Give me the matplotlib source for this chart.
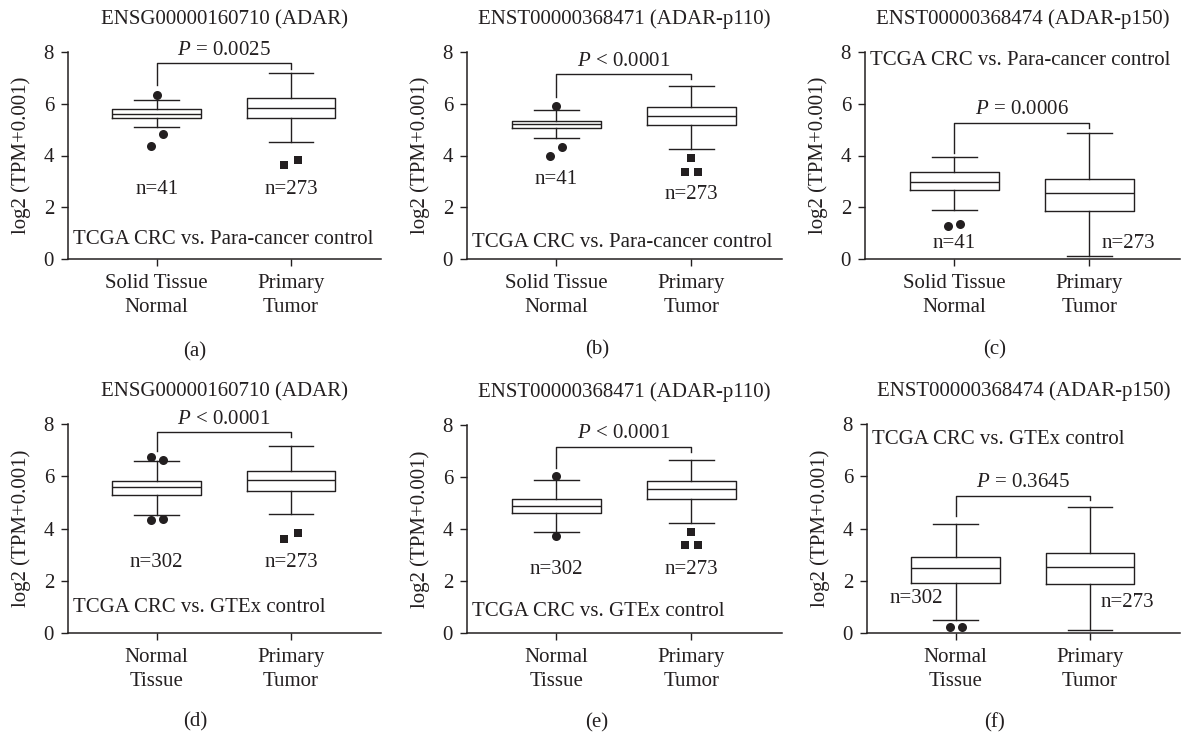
import matplotlib
matplotlib.use("Agg")
import matplotlib.pyplot as plt

# ---------------- data ----------------
titles = ["ENSG00000160710 (ADAR)", "ENST00000368471 (ADAR-p110)", "ENST00000368474 (ADAR-p150)",
          "ENSG00000160710 (ADAR)", "ENST00000368471 (ADAR-p110)", "ENST00000368474 (ADAR-p150)"]
panel_letters = ["(a)", "(b)", "(c)", "(d)", "(e)", "(f)"]
categories_para = ["Solid Tissue\nNormal", "Primary\nTumor"]
categories_gtex = ["Normal\nTissue", "Primary\nTumor"]
comparison = ["TCGA CRC vs. Para-cancer control"] * 3 + ["TCGA CRC vs. GTEx control"] * 3
p_values = ["= 0.0025", "< 0.0001", "= 0.0006", "< 0.0001", "< 0.0001", "= 0.3645"]
n_normal = ["n=41", "n=41", "n=41", "n=302", "n=302", "n=302"]
n_tumor = ["n=273"] * 6

# box statistics (whisker low, q1, median, q3, whisker high)
normal_wlo = [5.11, 4.67, 1.90, 4.53, 3.88, 0.51]
normal_q1 = [5.46, 5.07, 2.67, 5.30, 4.61, 1.90]
normal_med = [5.60, 5.21, 2.99, 5.59, 4.90, 2.50]
normal_q3 = [5.78, 5.34, 3.38, 5.82, 5.15, 2.89]
normal_whi = [6.14, 5.75, 3.95, 6.59, 5.89, 4.17]

tumor_wlo = [4.54, 4.25, 0.10, 4.54, 4.23, 0.10]
tumor_q1 = [5.44, 5.17, 1.87, 5.43, 5.16, 1.86]
tumor_med = [5.85, 5.53, 2.57, 5.84, 5.52, 2.52]
tumor_q3 = [6.23, 5.88, 3.09, 6.21, 5.86, 3.07]
tumor_whi = [7.19, 6.69, 4.88, 7.14, 6.66, 4.84]

normal_outliers = [[6.33, 4.83, 4.36], [5.90, 4.34, 3.98], [1.26, 1.34],
                   [6.75, 6.63, 4.34, 4.38], [6.04, 3.75], [0.23, 0.23]]
tumor_outliers = [[3.62, 3.83], [3.89, 3.38, 3.38], [],
                  [3.60, 3.81], [3.88, 3.37, 3.37], []]

# ---------------- layout / style ----------------
normal_jitter = [[0, 0.045, -0.045], [0, 0.045, -0.045], [-0.045, 0.045],
                 [-0.045, 0.045, -0.045, 0.045], [0, 0], [-0.045, 0.045]]
tumor_jitter = [[-0.055, 0.05], [0, -0.045, 0.045], [],
                [-0.055, 0.05], [0, -0.045, 0.045], []]
bracket_y = [7.57, 7.16, 5.26, 7.68, 7.17, 5.25]
bracket_left_end = [6.71, 6.26, 4.08, 6.98, 6.34, 4.49]
bracket_right_end = [7.36, 6.94, 5.07, 7.51, 6.98, 5.10]
p_text_y = [8.04, 7.65, 5.78, 8.19, 7.68, 5.76]
n_normal_pos = [(0, 2.70), (0, 3.06), (0, 0.58), (0, 2.70), (0, 2.46), (-0.29, 1.32)]
n_tumor_pos = [(1, 2.70), (1, 2.48), (1.29, 0.58), (1, 2.70), (1, 2.46), (1.28, 1.15)]
comp_y = [0.77, 0.64, 7.67, 0.96, 0.81, 7.40]

W, H = 1183, 739
ink = "#231f20"
FS = 15
plt.rcParams["font.family"] = ["Liberation Serif", "DejaVu Serif"]
plt.rcParams["mathtext.fontset"] = "custom"
plt.rcParams["mathtext.rm"] = "Liberation Serif"
plt.rcParams["mathtext.it"] = "Liberation Serif:italic"
plt.rcParams["font.size"] = FS
plt.rcParams["text.color"] = ink
plt.rcParams["axes.labelcolor"] = ink
plt.rcParams["xtick.color"] = ink
plt.rcParams["ytick.color"] = ink

fig = plt.figure(figsize=(W / 100, H / 100), dpi=100)

# axes pixel boxes: (left, y8 top, right, y0 bottom)
boxes_px = [(68, 52, 381, 259), (467, 52, 782, 259), (865, 52, 1180, 259),
            (68, 424, 381, 633), (467, 425, 782, 633), (867, 424, 1180, 633)]
letter_px = [(195, 352), (597, 350), (995, 350), (195, 722), (597, 723), (995, 723)]

for i in range(6):
    l, t, r, b = boxes_px[i]
    ax = fig.add_axes([l / W, 1 - b / H, (r - l) / W, (b - t) / H])
    stats = [
        dict(whislo=normal_wlo[i], q1=normal_q1[i], med=normal_med[i], q3=normal_q3[i],
             whishi=normal_whi[i], fliers=[]),
        dict(whislo=tumor_wlo[i], q1=tumor_q1[i], med=tumor_med[i], q3=tumor_q3[i],
             whishi=tumor_whi[i], fliers=[]),
    ]
    lp = dict(color=ink, linewidth=1.0)
    ax.bxp(stats, positions=[0, 1], widths=0.66, showfliers=False,
           boxprops=lp, medianprops=lp, whiskerprops=lp, capprops=lp,
           capwidths=0.33, manage_ticks=False)
    # outliers
    ax.plot([0 + j for j in normal_jitter[i]], normal_outliers[i], "o", color=ink,
            markersize=6.5, markeredgewidth=0, clip_on=False)
    if tumor_outliers[i]:
        ax.plot([1 + j for j in tumor_jitter[i]], tumor_outliers[i], "s", color=ink,
                markersize=6.2, markeredgewidth=0, clip_on=False)
    # bracket
    ax.plot([0, 0, 1, 1], [bracket_left_end[i], bracket_y[i], bracket_y[i], bracket_right_end[i]],
            color=ink, linewidth=1.0, clip_on=False)
    ax.text(0.5, p_text_y[i], r"$\it{P}$" + " " + p_values[i], ha="center", va="center",
            fontsize=FS, clip_on=False)
    ax.text(*n_normal_pos[i], n_normal[i], ha="center", va="center", fontsize=FS)
    ax.text(*n_tumor_pos[i], n_tumor[i], ha="center", va="center", fontsize=FS)
    ax.text(-0.62, comp_y[i], comparison[i], ha="left", va="center", fontsize=FS)

    ax.set_xlim(-0.66, 1.67)
    ax.set_ylim(0, 8)
    ax.set_yticks([0, 2, 4, 6, 8])
    ax.set_xticks([0, 1])
    ax.set_xticklabels(categories_para if i < 3 else categories_gtex, linespacing=1.35)
    for s in ["top", "right"]:
        ax.spines[s].set_visible(False)
    for s in ["left", "bottom"]:
        ax.spines[s].set_linewidth(1.1)
        ax.spines[s].set_color(ink)
    ax.tick_params(direction="out", length=5, width=1.0, pad=5, labelsize=FS)
    ax.tick_params(axis="x", pad=6)
    ax.set_ylabel("log2 (TPM+0.001)", fontsize=FS, labelpad=9)
    ax.set_title(titles[i], fontsize=FS, pad=20)
    ax.patch.set_visible(False)
    lx, ly = letter_px[i]
    fig.text(lx / W, 1 - ly / H, panel_letters[i], ha="center", va="center", fontsize=FS)

fig.savefig("out.png", dpi=100)
